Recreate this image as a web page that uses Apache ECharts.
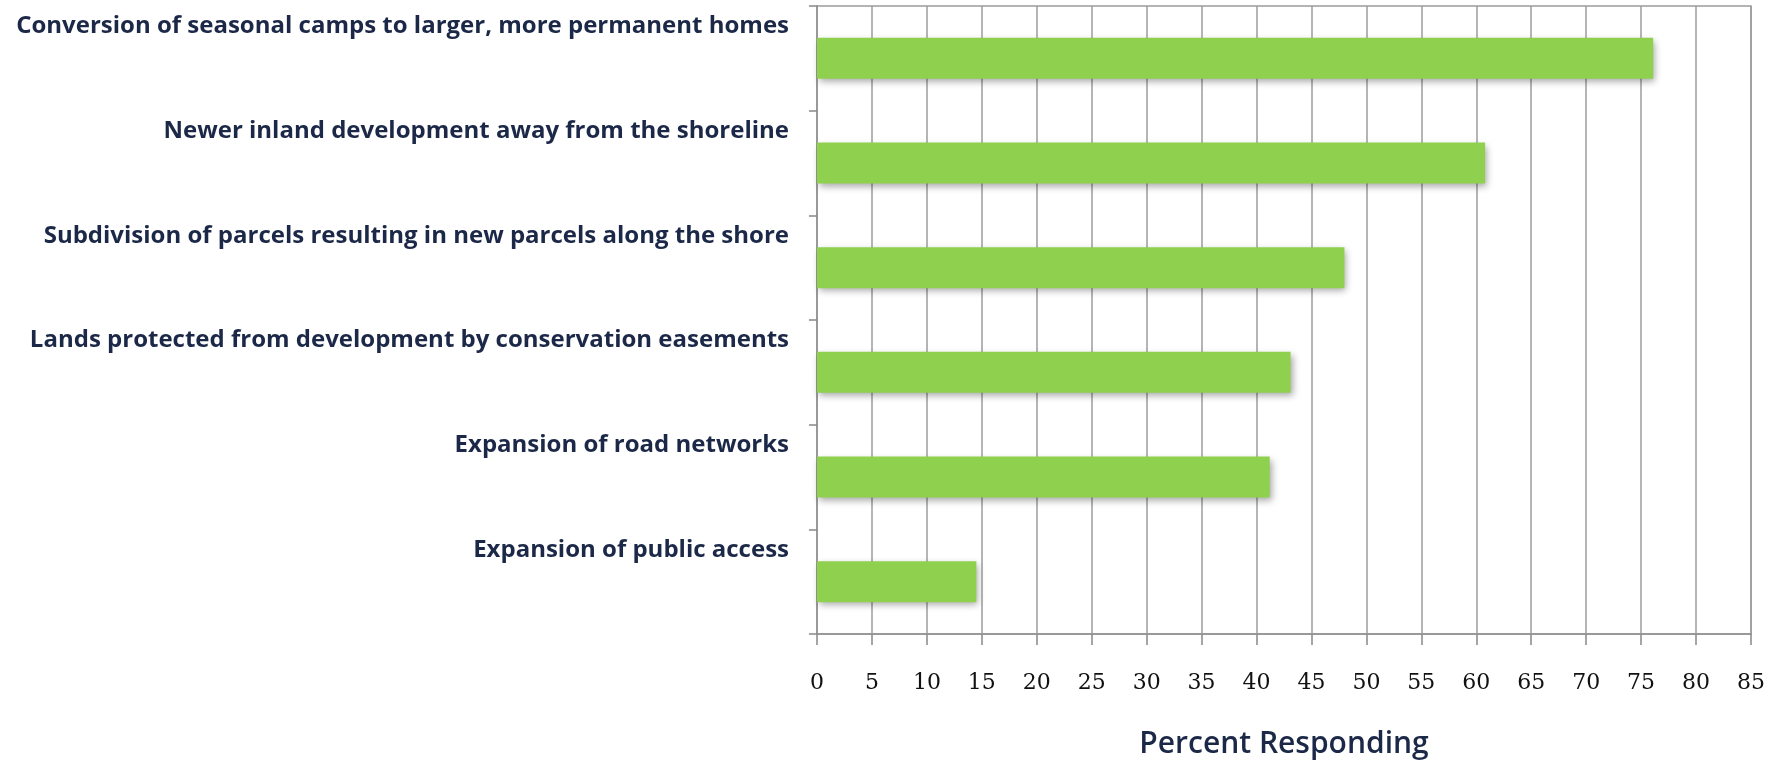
<!DOCTYPE html>
<html>
<head>
<meta charset="utf-8">
<script src="https://cdn.jsdelivr.net/npm/echarts@6/dist/echarts.min.js"></script>
<style>
  html, body { margin: 0; padding: 0; background: #ffffff; }
  #chart { width: 1785px; height: 760px; }
</style>
</head>
<body>
<div id="chart"></div>
<script>
// Survey responses: kinds of shoreline development change observed
const categories = [
  'Conversion of seasonal camps to larger, more permanent homes',
  'Newer inland development away from the shoreline',
  'Subdivision of parcels resulting in new parcels along the shore',
  'Lands protected from development by conservation easements',
  'Expansion of road networks',
  'Expansion of public access'
];
const percentResponding = [76.1, 60.8, 48.0, 43.1, 41.2, 14.5];
const xTicks = [0, 5, 10, 15, 20, 25, 30, 35, 40, 45, 50, 55, 60, 65, 70, 75, 80, 85];
const xAxisTitle = 'Percent Responding';

const chart = echarts.init(document.getElementById('chart'), null, { renderer: 'canvas' });

const gridColor = '#9c9c9c';
const navy = '#1c2847';

chart.setOption({
  animation: false,
  backgroundColor: '#ffffff',
  grid: {
    left: 817, right: 34, top: 6, bottom: 126,
    show: true, borderColor: gridColor, borderWidth: 1.5,
    containLabel: false,
    outerBoundsMode: 'none'
  },
  xAxis: {
    type: 'value',
    min: xTicks[0],
    max: xTicks[xTicks.length - 1],
    interval: xTicks[1] - xTicks[0],
    name: xAxisTitle,
    nameLocation: 'middle',
    nameGap: 95,
    nameTextStyle: {
      fontFamily: 'Open Sans', fontSize: 30, fontWeight: 600, color: navy
    },
    axisLine: { show: true, lineStyle: { color: '#999999', width: 2 } },
    axisTick: { show: true, length: 11, lineStyle: { color: '#888888', width: 1.5 } },
    axisLabel: {
      margin: 38,
      fontFamily: 'DejaVu Serif', fontSize: 22, color: '#111111'
    },
    splitLine: { show: true, lineStyle: { color: gridColor, width: 1.5 } }
  },
  yAxis: {
    type: 'category',
    inverse: true,
    data: categories,
    axisLine: { show: true, lineStyle: { color: '#999999', width: 2 } },
    axisTick: { show: true, length: 8, inside: false, lineStyle: { color: '#888888', width: 1.5 } },
    axisLabel: {
      margin: 28,
      fontFamily: 'Open Sans', fontSize: 24, fontWeight: 'bold', color: navy,
      verticalAlign: 'bottom',
      lineHeight: 64
    },
    splitLine: { show: false }
  },
  series: [{
    type: 'bar',
    data: percentResponding,
    barWidth: 41,
    itemStyle: {
      color: '#8fd14f',
      shadowColor: 'rgba(0,0,0,0.35)',
      shadowBlur: 7,
      shadowOffsetX: 2,
      shadowOffsetY: 3
    }
  }]
});
</script>
</body>
</html>
